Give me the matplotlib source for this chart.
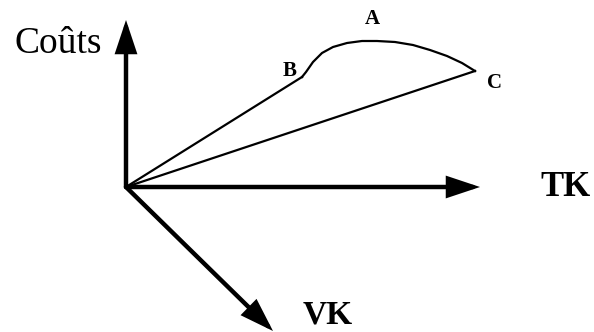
import matplotlib
matplotlib.use("Agg")
import matplotlib.pyplot as plt

# Diagram geometry (pixel-like coordinates, y downward)
origin = (126, 187)
axis_tips = {"Coûts": (126, 20), "TK": (480, 187), "VK": (273, 331)}
axis_labels = ["Coûts", "TK", "VK"]
label_pos = {"Coûts": (58, 53), "TK": (566, 196), "VK": (328, 331)}

point_B = (302, 77)
point_C = (475, 71)
curve_x = [302, 306, 313, 322, 333, 347, 362, 377, 395, 413, 430, 447, 462, 475]
curve_y = [77, 72, 62, 53, 47, 43, 41, 41, 42, 45, 50, 56, 63, 71]
point_labels = ["A", "B", "C"]
point_label_pos = {"A": (372, 19), "B": (290, 71), "C": (495, 83)}

fig = plt.figure(figsize=(5.94, 3.32), dpi=100)
ax = fig.add_axes([0, 0, 1, 1])
ax.set_xlim(0, 594)
ax.set_ylim(332, 0)
ax.axis("off")

for name in axis_labels:
    ax.annotate("", xy=axis_tips[name], xytext=origin,
                arrowprops=dict(arrowstyle="-|>,head_length=18,head_width=6",
                                mutation_scale=1, lw=3.2, color="black",
                                shrinkA=0, shrinkB=0, joinstyle="miter"))

ax.plot([origin[0], point_B[0]], [origin[1], point_B[1]], color="black", lw=1.6)
ax.plot([origin[0], point_C[0]], [origin[1], point_C[1]], color="black", lw=1.6)
ax.plot(curve_x, curve_y, color="black", lw=1.6, solid_joinstyle="round")

serif = "Liberation Serif"
ax.text(*label_pos["Coûts"], "Coûts", fontsize=27, family=serif,
        ha="center", va="baseline")
ax.text(*label_pos["TK"], "TK", fontsize=25, family=serif, fontweight="bold",
        ha="center", va="baseline")
ax.text(*label_pos["VK"], "VK", fontsize=24, family=serif, fontweight="bold",
        ha="center", va="bottom")
for name in point_labels:
    ax.text(*point_label_pos[name], name, fontsize=15, family=serif,
            fontweight="bold", ha="center", va="center")

fig.savefig("out.png", dpi=100)
